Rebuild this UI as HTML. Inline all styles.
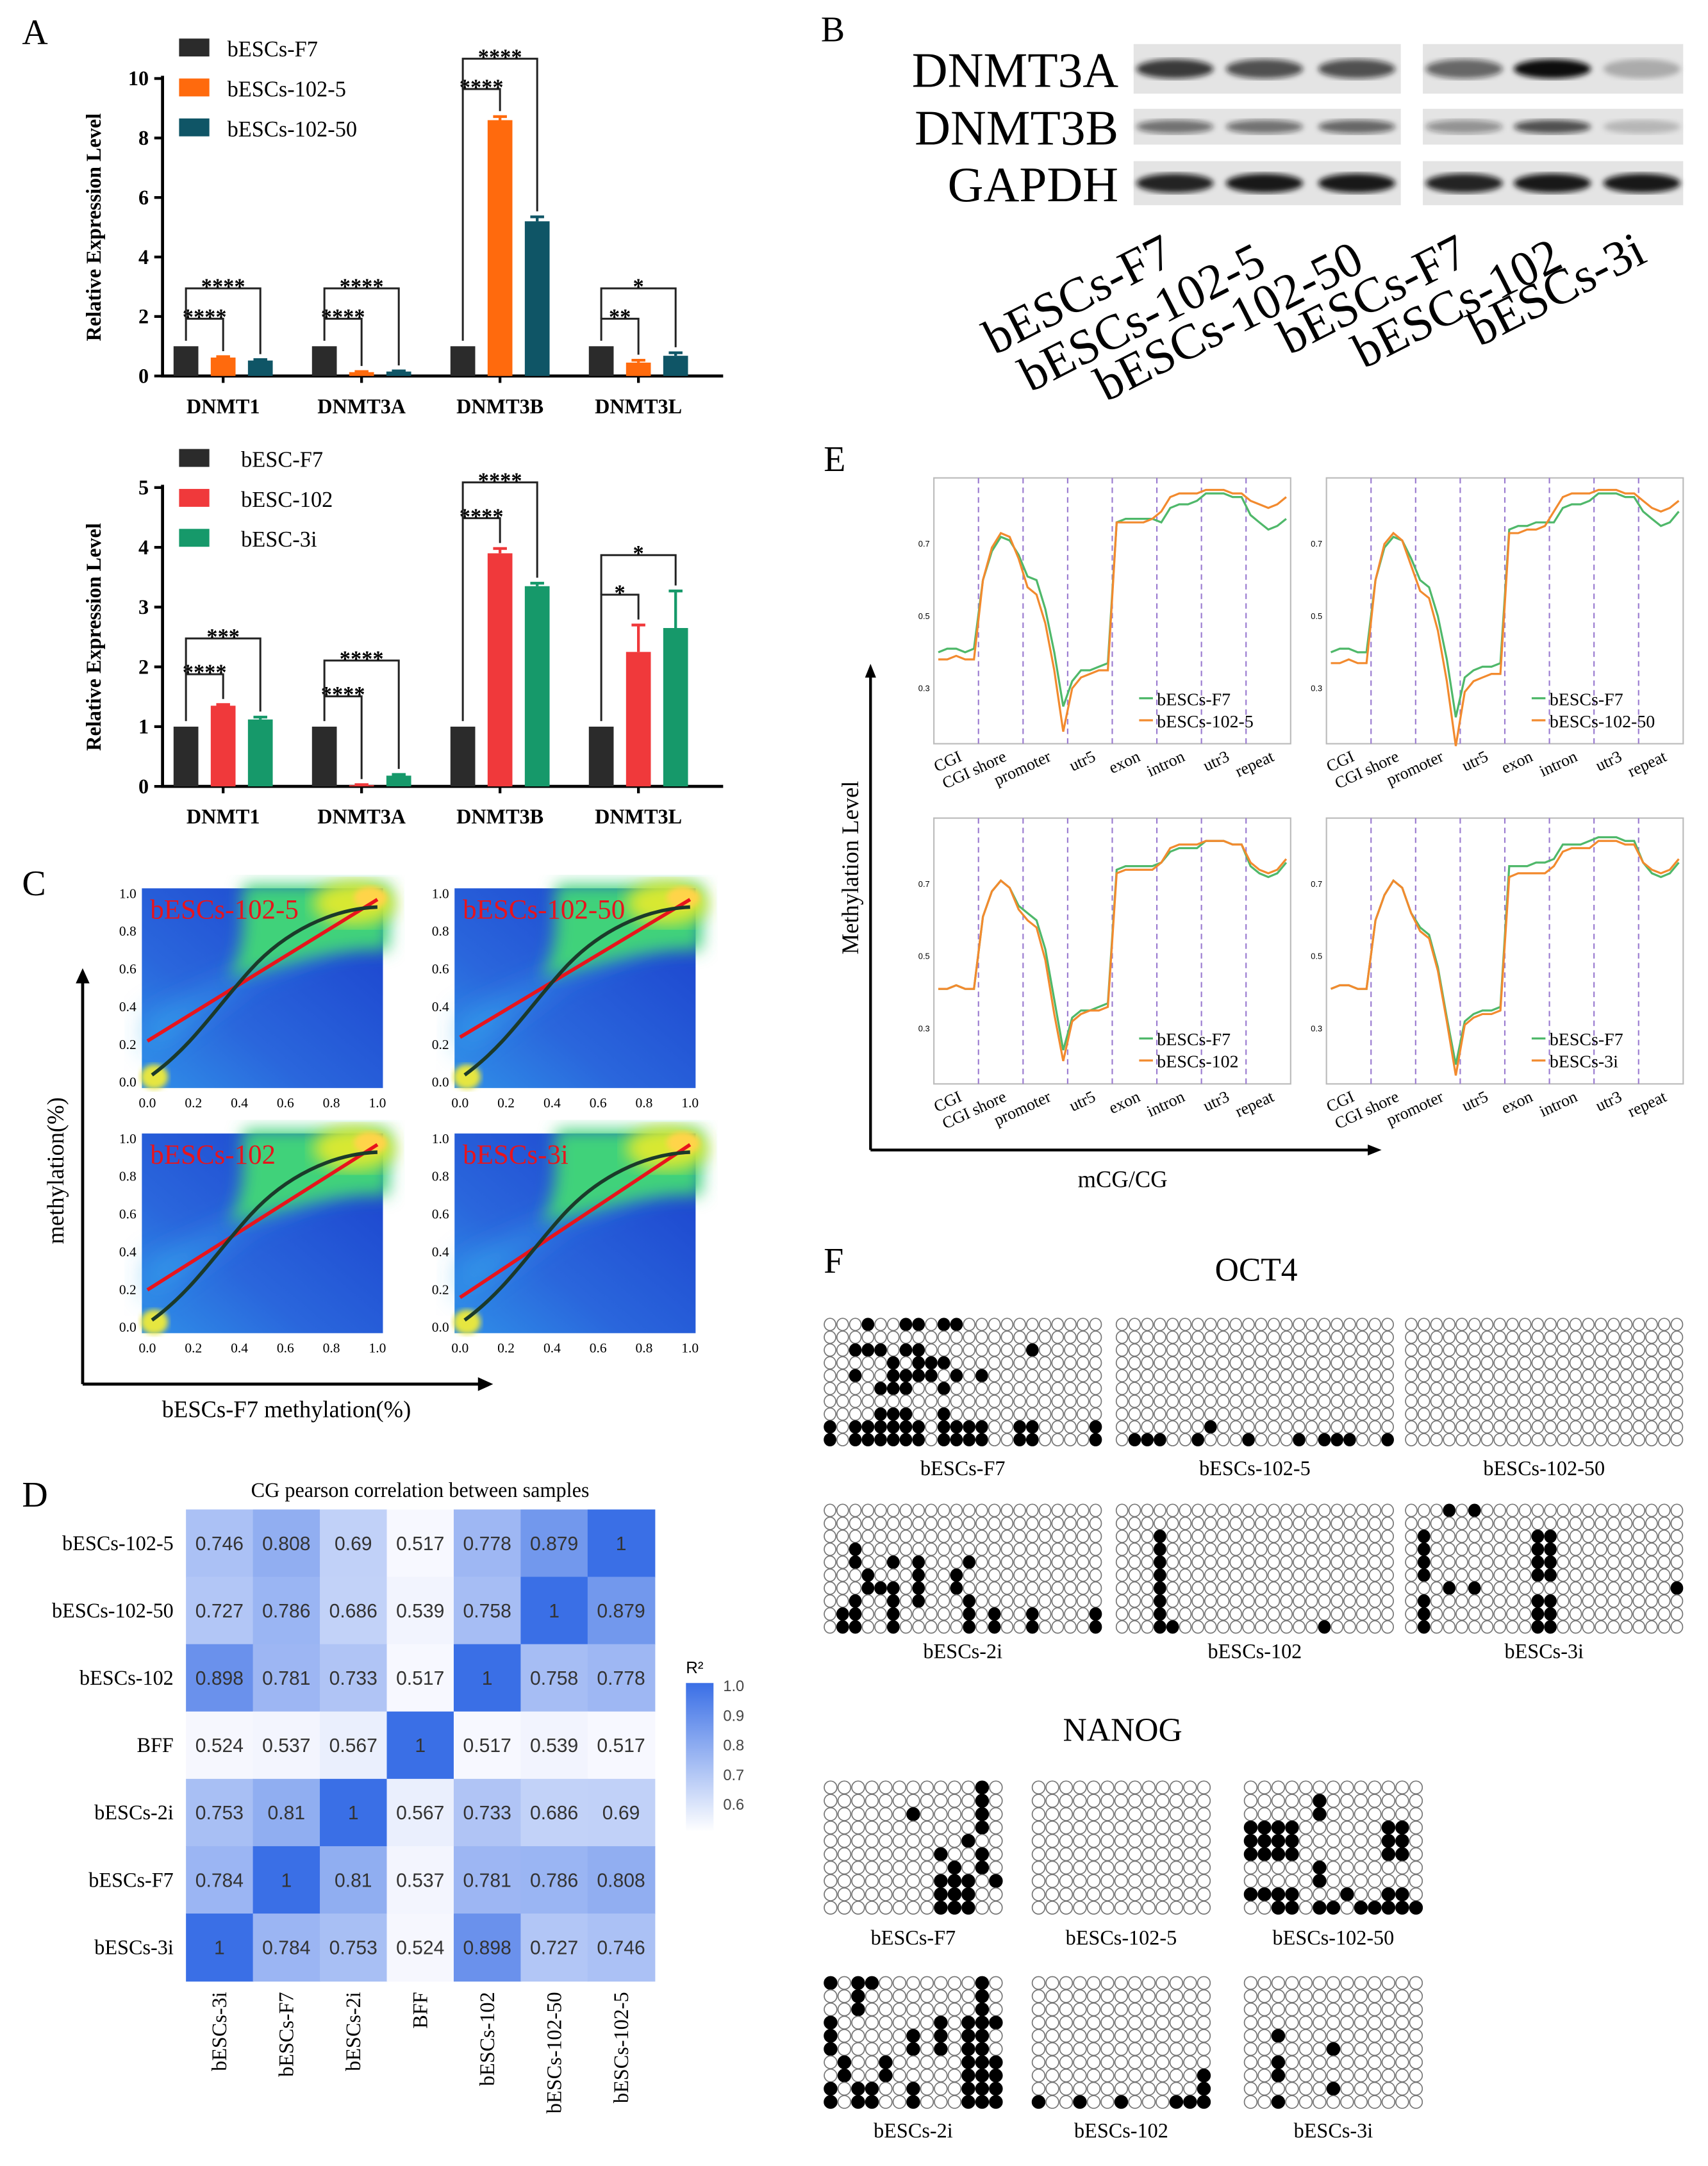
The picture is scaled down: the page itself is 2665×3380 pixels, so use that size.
<!DOCTYPE html>
<html><head><meta charset="utf-8"><title>DNMT figure recreation</title>
<style>
html,body{margin:0;padding:0;background:#fff;}
svg{display:block;font-family:"Liberation Serif","DejaVu Serif",serif;}
</style></head>
<body>
<svg id="fig" xmlns="http://www.w3.org/2000/svg" width="2665" height="3380" viewBox="0 0 1240 1572.7">
<defs>
<filter id="blur2"><feGaussianBlur stdDeviation="2"/></filter>
<filter id="blur6"><feGaussianBlur stdDeviation="6"/></filter>
<filter id="blur10"><feGaussianBlur stdDeviation="10"/></filter>
<linearGradient id="cbar" x1="0" y1="0" x2="0" y2="1"><stop offset="0" stop-color="#3a6fe6"/><stop offset="1" stop-color="#ffffff"/></linearGradient>
<linearGradient id="hmbg" x1="0" y1="1" x2="1" y2="0"><stop offset="0" stop-color="#2f8fe8"/><stop offset="0.35" stop-color="#2a66dc"/><stop offset="1" stop-color="#1a3fcc"/></linearGradient>
</defs>
<rect width="1240" height="1573" fill="#fff"/>
<g id="root"></g>
</svg>
<script>
// ===== Panel A data =====
const catsA = ["DNMT1","DNMT3A","DNMT3B","DNMT3L"];
const seriesA1Names = ["bESCs-F7","bESCs-102-5","bESCs-102-50"];
const a1F7 = [1,1,1,1];
const a1s5 = [0.62,0.13,8.6,0.45];
const a1s50 = [0.52,0.15,5.2,0.68];
const a1Err5 = [0.03,0.02,0.12,0.08];
const a1Err50 = [0.03,0.02,0.15,0.1];
const a1Ticks = [0,2,4,6,8,10];
const seriesA2Names = ["bESC-F7","bESC-102","bESC-3i"];
const a2F7 = [1,1,1,1];
const a2s102 = [1.35,0.02,3.9,2.25];
const a2s3i = [1.12,0.18,3.35,2.65];
const a2Err102 = [0.02,0.01,0.08,0.45];
const a2Err3i = [0.04,0.02,0.05,0.62];
const a2Ticks = [0,1,2,3,4,5];
const sigA1Inner = ["****","****","****","**"];
const sigA1Outer = ["****","****","****","*"];
const sigA2Inner = ["****","****","****","*"];
const sigA2Outer = ["***","****","****","*"];
// ===== Panel D data =====
const dRows = ["bESCs-102-5","bESCs-102-50","bESCs-102","BFF","bESCs-2i","bESCs-F7","bESCs-3i"];
const dCols = ["bESCs-3i","bESCs-F7","bESCs-2i","BFF","bESCs-102","bESCs-102-50","bESCs-102-5"];
const dVals = [
 [0.746,0.808,0.69,0.517,0.778,0.879,1],
 [0.727,0.786,0.686,0.539,0.758,1,0.879],
 [0.898,0.781,0.733,0.517,1,0.758,0.778],
 [0.524,0.537,0.567,1,0.517,0.539,0.517],
 [0.753,0.81,1,0.567,0.733,0.686,0.69],
 [0.784,1,0.81,0.537,0.781,0.786,0.808],
 [1,0.784,0.753,0.524,0.898,0.727,0.746]
];
const dBarTicks = [1.0,0.9,0.8,0.7,0.6];
// ===== Panel E data =====
const eRegions = ["CGI","CGI shore","promoter","utr5","exon","intron","utr3","repeat"];
const eTicks = [0.7,0.5,0.3];
const e1Green = [.40,.41,.41,.40,.41, .60,.68,.72,.71,.67, .61,.60,.52,.40,.25, .32,.35,.35,.36,.37, .76,.77,.77,.77,.77, .76,.80,.81,.81,.82, .84,.84,.84,.83,.83, .78,.76,.74,.75,.77];
const e1Orange = [.38,.38,.39,.38,.38, .60,.69,.73,.72,.66, .58,.56,.48,.35,.18, .30,.33,.34,.35,.35, .76,.76,.76,.76,.77, .79,.83,.84,.84,.84, .85,.85,.85,.84,.84, .82,.81,.80,.81,.83];
const e2Green = [.40,.41,.41,.40,.40, .60,.69,.72,.71,.66, .60,.58,.50,.38,.22, .33,.35,.36,.36,.37, .74,.75,.75,.76,.76, .76,.80,.81,.81,.82, .84,.84,.84,.83,.83, .79,.77,.75,.76,.79];
const e2Orange = [.37,.37,.38,.37,.37, .60,.70,.73,.71,.64, .57,.55,.46,.32,.14, .29,.32,.33,.34,.34, .73,.73,.74,.74,.75, .79,.83,.84,.84,.84, .85,.85,.85,.84,.84, .82,.80,.79,.80,.82];
const e3Green = [.41,.41,.42,.41,.41, .61,.68,.71,.69,.64, .62,.60,.52,.38,.24, .33,.35,.35,.36,.37, .74,.75,.75,.75,.75, .76,.79,.80,.80,.80, .82,.82,.82,.81,.81, .75,.73,.72,.73,.76];
const e3Orange = [.41,.41,.42,.41,.41, .61,.68,.71,.69,.63, .60,.58,.49,.34,.21, .32,.34,.35,.35,.36, .73,.74,.74,.74,.74, .76,.80,.81,.81,.81, .82,.82,.82,.81,.81, .76,.74,.73,.74,.77];
const e4Green = [.41,.42,.42,.41,.41, .60,.67,.71,.69,.62, .58,.56,.47,.33,.20, .32,.34,.35,.35,.36, .75,.75,.75,.76,.76, .77,.81,.81,.81,.82, .83,.83,.83,.82,.82, .76,.73,.72,.73,.76];
const e4Orange = [.41,.42,.42,.41,.41, .60,.67,.71,.69,.62, .57,.55,.46,.32,.17, .31,.33,.34,.34,.35, .72,.73,.73,.73,.73, .75,.79,.80,.80,.80, .82,.82,.82,.81,.81, .76,.74,.73,.74,.77];
// ===== Panel F data (methylated CpG column indices per row) =====
const oF7 = [[3,6,7,9,10],[],[2,3,4,6,7,16],[5,7,8,9],[2,5,6,7,8,10,12],[4,5,6,9],[],[4,5,6,9],[0,2,3,4,5,6,7,9,10,11,12,15,16,21],[0,2,3,4,5,6,7,9,10,11,12,15,16,21]];
const o1025 = [[],[],[],[],[],[],[],[],[7],[1,2,3,6,10,14,16,17,18,21]];
const o10250 = [[],[],[],[],[],[],[],[],[],[]];
const o2i = [[],[],[],[2],[2,5,7,11],[3,7,10],[3,4,5,7,10],[2,5,7,11],[1,2,5,11,13,16,21],[1,2,5,11,13,16,21]];
const o102 = [[],[],[3],[3],[3],[3],[3],[3],[3],[3,4,16]];
const o3i = [[3,5],[],[1,10,11],[1,10,11],[1,10,11],[1,10,11],[3,5,21],[1,10,11],[1,10,11],[1,10,11]];
const nF7 = [[11],[11],[6,11],[11],[10],[8,11],[9,11],[8,9,10,12],[8,9,10],[8,9,10]];
const n1025 = [[],[],[],[],[],[],[],[],[],[]];
const n10250 = [[],[5],[5],[0,1,2,3,10,11],[0,1,2,3,10,11],[0,1,2,3,10,11],[5],[5],[0,1,2,3,7,10,11],[2,3,5,6,8,9,10,11,12]];
const n2i = [[0,2,3,11],[2,11],[2,11],[0,8,10,11,12],[0,6,8,10,11],[0,6,8,10,11],[1,4,10,11,12],[1,4,10,11,12],[0,2,3,6,10,11,12],[0,2,3,6,10,11,12]];
const n102 = [[],[],[],[],[],[],[],[12],[12],[0,3,6,10,11,12]];
const n3i = [[],[],[],[],[2],[6],[2],[2],[6],[2]];

const NS="http://www.w3.org/2000/svg";
const root=document.getElementById('root');
function mk(tag,attrs,parent,txt){const e=document.createElementNS(NS,tag);for(const k in attrs)e.setAttribute(k,attrs[k]);if(txt!==undefined)e.textContent=txt;(parent||root).appendChild(e);return e;}
function grp(name,parent){const g=mk('g',{},parent);


return g;}

// Panel letters
[["A",16,32],["B",596,30],["C",16,650],["D",16,1094],["E",598,342],["F",598,924]].forEach(p=>{
 const t=mk('text',{x:p[1],y:p[2],'font-size':26},root,p[0]);
 
 
});

// ===== Bar chart =====
function barChart(o){
 const g=grp(o.name);
 const yS=v=>o.yBot-(v/o.ymax)*(o.yBot-o.yTop);
 const groupX=i=>o.x0+ i*o.step;
 const bw=18, off=[-27,0,27];
 // axes
 const ax=mk('path',{d:`M${o.axX},${o.yTop-2} V${o.yBot} H${o.axEnd}`,stroke:'#000','stroke-width':2.2,fill:'none'},g);
 
 
 o.ticks.forEach(t=>{
  const l=mk('line',{x1:o.axX-6,x2:o.axX,y1:yS(t),y2:yS(t),stroke:'#000','stroke-width':2},g);
  
  
  const tx=mk('text',{x:o.axX-10,y:yS(t)+5,'text-anchor':'end','font-size':15,'font-weight':'bold'},g,String(t));
  
  
 });
 const yt=mk('text',{transform:`translate(${o.axX-45},${(o.yTop+o.yBot)/2}) rotate(-90)`,'text-anchor':'middle','font-size':15,'font-weight':'bold'},g,'Relative Expression Level');
 
 
 o.cats.forEach((c,i)=>{
  const t=mk('text',{x:groupX(i),y:o.yBot+27,'text-anchor':'middle','font-size':15,'font-weight':'bold'},g,c);
  
  
  const tk=mk('line',{x1:groupX(i),x2:groupX(i),y1:o.yBot,y2:o.yBot+5,stroke:'#000','stroke-width':2},g);
  
  
 });
 o.series.forEach((s,si)=>{
  s.vals.forEach((v,i)=>{
   const x=groupX(i)+off[si];
   const r=mk('rect',{x:x-bw/2,y:yS(v),width:bw,height:o.yBot-yS(v),fill:s.color},g);
   
   
   if(s.err){const e=s.err[i];
    const eb=mk('path',{d:`M${x},${yS(v)} V${yS(v+e)} M${x-5},${yS(v+e)} H${x+5}`,stroke:s.color,'stroke-width':2,fill:'none'},g);
    
    }
  });
 });
 // significance brackets
 o.cats.forEach((c,i)=>{
  const xa=groupX(i)+off[0], xb=groupX(i)+off[1], xc=groupX(i)+off[2];
  const topB=yS(o.series[1].vals[i]+(o.series[1].err?o.series[1].err[i]:0));
  const topC=yS(o.series[2].vals[i]+(o.series[2].err?o.series[2].err[i]:0));
  const topA=yS(o.series[0].vals[i]);
  const yIn=Math.min(topA,topB)-o.gap1, yOut=Math.min(yIn,topC)-o.gap2;
  const b1=mk('path',{d:`M${xa},${topA-4} V${yIn} H${xb} V${topB-4}`,stroke:'#222','stroke-width':1.4,fill:'none'},g);
  
  
  const t1=mk('text',{x:(xa+xb)/2,y:yIn+4,'text-anchor':'middle','font-size':16,'font-weight':'bold'},g,o.sigIn[i]);
  
  
  const b2=mk('path',{d:`M${xa},${yIn} V${yOut} H${xc} V${topC-4}`,stroke:'#222','stroke-width':1.4,fill:'none'},g);
  
  
  const t2=mk('text',{x:(xa+xc)/2,y:yOut+4,'text-anchor':'middle','font-size':16,'font-weight':'bold'},g,o.sigOut[i]);
  
  
 });
 // legend
 o.series.forEach((s,si)=>{
  const y=o.legY+si*29;
  const r=mk('rect',{x:o.legX,y:y-7,width:22,height:13,fill:s.color},g);
  
  
  const t=mk('text',{x:o.legX+o.legGap,y:y+6,'font-size':16},g,s.name);
  
  
 });
}
barChart({name:'bar-chart-a-top',cats:catsA,x0:162,step:100.5,axX:118,axEnd:525,yTop:57,yBot:273,ymax:10,ticks:a1Ticks,gap1:20,gap2:22,
 sigIn:sigA1Inner,sigOut:sigA1Outer,legX:130,legY:35,legGap:35,
 series:[{name:seriesA1Names[0],vals:a1F7,color:'#2b2b2b'},{name:seriesA1Names[1],vals:a1s5,color:'#ff6a0d',err:a1Err5},{name:seriesA1Names[2],vals:a1s50,color:'#0f5566',err:a1Err50}]});
barChart({name:'bar-chart-a-bottom',cats:catsA,x0:162,step:100.5,axX:118,axEnd:525,yTop:354,yBot:571,ymax:5,ticks:a2Ticks,gap1:22,gap2:26,
 sigIn:sigA2Inner,sigOut:sigA2Outer,legX:130,legY:333,legGap:45,
 series:[{name:seriesA2Names[0],vals:a2F7,color:'#2b2b2b'},{name:seriesA2Names[1],vals:a2s102,color:'#f0393b',err:a2Err102},{name:seriesA2Names[2],vals:a2s3i,color:'#16996a',err:a2Err3i}]});

// ===== Panel B western blots =====
(function(){
 const g=grp('western-blot-b');
 const rows=[["DNMT3A",50,36,[0.8,0.7,0.7,0.6,1,0.25]],["DNMT3B",92,26,[0.55,0.55,0.6,0.4,0.7,0.2]],["GAPDH",133,32,[0.9,0.95,0.95,0.9,0.95,0.95]]];
 const lanes=[853,918,985,1063,1127,1192];
 rows.forEach(r=>{
  const lab=mk('text',{x:812,y:r[1]+13,'text-anchor':'end','font-size':36},g,r[0]);
  
  
  [[823,1017],[1033,1222]].forEach(b=>{
   const bg=mk('rect',{x:b[0],y:r[1]-r[2]/2,width:b[1]-b[0],height:r[2],fill:'#e4e4e4'},g);
   
   
  });
  lanes.forEach((lx,i)=>{
   const e=mk('ellipse',{cx:lx,cy:r[1],rx:28,ry:r[0]==="DNMT3B"?5:7,fill:'#111','fill-opacity':r[3][i],filter:'url(#blur2)'},g);
   
   
  });
 });
 const labs=[["bESCs-F7",722,258],["bESCs-102-5",748,285],["bESCs-102-50",803,292],["bESCs-F7",936,258],["bESCs-102",990,268],["bESCs-3i",1074,252]];
 labs.forEach(l=>{
  const t=mk('text',{transform:`translate(${l[1]},${l[2]}) rotate(-27)`,'font-size':36},g,l[0]);
  
  
 });
})();

// ===== Panel C scatter density heatmaps =====
(function(){
 const g=grp('density-plots-c');
 const panels=[["bESCs-102-5",103,645,0.22],["bESCs-102-50",330,645,0.24],["bESCs-102",103,823,0.20],["bESCs-3i",330,823,0.16]];
 panels.forEach(p=>{
  const x0=p[1],y0=p[2],w=175,h=145;
  const pg=grp('density-panel-'+p[0].toLowerCase(),g);
  const X=v=>x0+4+v*(w-8), Y=v=>y0+h-4-v*(h-8);
  const cp=mk('clipPath',{id:'cp'+x0+y0},pg);
  mk('rect',{x:x0,y:y0,width:w,height:h},cp);
  const cg=mk('g',{'clip-path':`url(#cp${x0+y0})`},pg);
  const bg=mk('rect',{x:x0,y:y0,width:w,height:h,fill:'url(#hmbg)'},cg);
  
  
  mk('path',{d:`M${X(0)},${Y(0.15)} L${X(0.45)},${Y(0.55)} L${X(1)},${Y(0.85)} L${X(1)},${Y(1.0)} L${X(0.5)},${Y(0.62)} L${X(0)},${Y(0.35)}Z`,fill:'#35b0f0','fill-opacity':0.6,filter:'url(#blur10)'},cg);
  mk('path',{d:`M${X(0.35)},${Y(0.55)} C${X(0.45)},${Y(0.75)} ${X(0.4)},${Y(0.95)} ${X(0.42)},${Y(1.05)} L${X(1.05)},${Y(1.05)} L${X(1.05)},${Y(0.7)} C${X(0.8)},${Y(0.72)} ${X(0.6)},${Y(0.62)} ${X(0.35)},${Y(0.55)}Z`,fill:'#3fd27a',filter:'url(#blur6)'},cg);
  mk('ellipse',{cx:X(0.9),cy:Y(0.95),rx:30,ry:16,fill:'#d8e830',filter:'url(#blur6)'},cg);
  mk('ellipse',{cx:X(0.97),cy:Y(0.98),rx:12,ry:8,fill:'#ffd44a',filter:'url(#blur2)'},cg);
  mk('ellipse',{cx:X(0.03),cy:Y(0.03),rx:10,ry:9,fill:'#e6e640',filter:'url(#blur2)'},cg);
  const rl=mk('line',{x1:X(0),y1:Y(p[3]),x2:X(1),y2:Y(0.97),stroke:'#e8141c','stroke-width':2.6},cg);
  
  
  const bl=mk('path',{d:`M${X(0.02)},${Y(0.04)} C${X(0.2)},${Y(0.2)} ${X(0.3)},${Y(0.4)} ${X(0.45)},${Y(0.6)} C${X(0.6)},${Y(0.8)} ${X(0.8)},${Y(0.92)} ${X(1)},${Y(0.93)}`,stroke:'#1b3a2a','stroke-width':2.6,fill:'none'},cg);
  
  
  const tt=mk('text',{x:x0+6,y:y0+22,'font-size':20,fill:'#e8141c'},pg,p[0]);
  
  
  [0,0.2,0.4,0.6,0.8,1.0].forEach(t=>{
   const a=mk('text',{x:x0-4,y:Y(t)+3,'text-anchor':'end','font-size':10},pg,t.toFixed(1));
   
   
   const b=mk('text',{x:X(t),y:y0+h+14,'text-anchor':'middle','font-size':10},pg,t.toFixed(1));
   
   
  });
 });
 const ax=mk('path',{d:'M60,1005 V712 M60,1005 H350',stroke:'#000','stroke-width':2.2,fill:'none'},g);
 
 
 const ah=mk('path',{d:'M60,703 L55,714 L65,714Z M358,1005 L347,1000 L347,1010Z',fill:'#000'},g);
 
 
 const yt=mk('text',{transform:'translate(46,850) rotate(-90)','text-anchor':'middle','font-size':17},g,'methylation(%)');
 
 
 const xt=mk('text',{x:208,y:1029,'text-anchor':'middle','font-size':17},g,'bESCs-F7 methylation(%)');
 
 
})();

// ===== Panel D correlation heatmap =====
(function(){
 const g=grp('correlation-heatmap-d');
 const x0=135,y0=1096,cw=48.6,ch=48.9;
 const col=v=>{let t=Math.max(0,Math.min(1,(v-0.5)/0.5));t=Math.pow(t,1.25);
  const a=[250,250,255],b=[58,111,230];return `rgb(${a.map((c,i)=>Math.round(c+(b[i]-c)*t)).join(',')})`;};
 const tt=mk('text',{x:305,y:1087,'text-anchor':'middle','font-size':15},g,'CG pearson correlation between samples');
 
 
 dRows.forEach((rn,r)=>{
  const rl=mk('text',{x:x0-9,y:y0+r*ch+ch/2+5,'text-anchor':'end','font-size':15},g,rn);
  
  
  dCols.forEach((cn,c)=>{
   const v=dVals[r][c];
   const cell=mk('rect',{x:x0+c*cw,y:y0+r*ch,width:cw+0.5,height:ch+0.5,fill:col(v)},g);
   
   
   const t=mk('text',{x:x0+c*cw+cw/2,y:y0+r*ch+ch/2+5,'text-anchor':'middle','font-size':14,'font-family':'Liberation Sans, sans-serif',fill:'#333'},g,String(v));
   
   
  });
 });
 dCols.forEach((cn,c)=>{
  const t=mk('text',{transform:`translate(${x0+c*cw+cw/2+5},${y0+7*ch+8}) rotate(-90)`,'text-anchor':'end','font-size':15},g,cn);
  
  
 });
 const cb=mk('rect',{x:498,y:1222,width:20,height:108,fill:'url(#cbar)'},g);
 
 
 const cbt=mk('text',{x:498,y:1215,'font-size':12,'font-family':'Liberation Sans, sans-serif'},g,'R²');
 
 
 const cbY=v=>1224+(1.0-v)/0.1*21.5;
 dBarTicks.forEach(v=>{
  const t=mk('text',{x:525,y:cbY(v)+4,'font-size':11,'font-family':'Liberation Sans, sans-serif',fill:'#444'},g,v.toFixed(1));
  
  
 });
})();

// ===== Panel E line plots =====
(function(){
 const g=grp('methylation-profiles-e');
 const panels=[[678,347,e1Green,e1Orange,"bESCs-102-5"],[963,347,e2Green,e2Orange,"bESCs-102-50"],[678,594,e3Green,e3Orange,"bESCs-102"],[963,594,e4Green,e4Orange,"bESCs-3i"]];
 panels.forEach(p=>{
  const x0=p[0],y0=p[1],w=259,h=193;
  const pg=grp('profile-panel-'+p[4].toLowerCase(),g);
  const fr=mk('rect',{x:x0,y:y0,width:w,height:h,fill:'#fff',stroke:'#bbb','stroke-width':1},pg);
  
  
  const Y=v=>y0+48+(0.7-v)*262;
  const segW=w/8;
  const X=i=>x0+(Math.floor(i/5)+((i%5)+0.5)/5)*segW;
  for(let s=1;s<8;s++){
   const l=mk('line',{x1:x0+s*segW,x2:x0+s*segW,y1:y0,y2:y0+h,stroke:'#9a7bd0','stroke-width':1,'stroke-dasharray':'4,3'},pg);
   
   
  }
  eTicks.forEach(t=>{
   const a=mk('text',{x:x0-3,y:Y(t)+2,'text-anchor':'end','font-size':6,'font-family':'Liberation Sans, sans-serif'},pg,String(t));
   
   
  });
  [[p[2],'#4fb86a','green'],[p[3],'#f28a2e','orange']].forEach(sr=>{
   const d=sr[0].map((v,i)=>(i?'L':'M')+X(i).toFixed(1)+','+Y(v).toFixed(1)).join(' ');
   const pl=mk('path',{d:d,stroke:sr[1],'stroke-width':1.5,fill:'none'},pg);
   
   
  });
  const lg=[["bESCs-F7",'#4fb86a'],[p[4],'#f28a2e']];
  lg.forEach((l,i)=>{
   const ly=y0+h-33+i*16;
   const ll=mk('line',{x1:x0+w-110,x2:x0+w-100,y1:ly,y2:ly,stroke:l[1],'stroke-width':1.5},pg);
   
   
   const lt=mk('text',{x:x0+w-97,y:ly+5,'font-size':13},pg,l[0]);
   
   
  });
  eRegions.forEach((r,i)=>{
   const t=mk('text',{transform:`translate(${x0+i*segW+segW*0.65},${y0+h+12}) rotate(-25)`,'text-anchor':'end','font-size':12},pg,r);
   
   
  });
 });
 const ax=mk('path',{d:'M632,835 V490 M632,835 H995',stroke:'#000','stroke-width':2,fill:'none'},g);
 
 
 const ah=mk('path',{d:'M632,482 L628,492 L636,492Z M1003,835 L993,831 L993,839Z',fill:'#000'},g);
 
 
 const yt=mk('text',{transform:'translate(623,630) rotate(-90)','text-anchor':'middle','font-size':17},g,'Methylation Level');
 
 
 const xt=mk('text',{x:815,y:862,'text-anchor':'middle','font-size':17},g,'mCG/CG');
 
 
})();

// ===== Panel F bisulfite lollipop grids =====
(function(){
 const g=grp('bisulfite-grids-f');
 const t1=mk('text',{x:912,y:930,'text-anchor':'middle','font-size':24},g,'OCT4');
 
 
 const t2=mk('text',{x:815,y:1264,'text-anchor':'middle','font-size':24},g,'NANOG');
 
 
 const grids=[
  [oF7,22,598,957,202,93,"bESCs-F7",1071],[o1025,22,810,957,202,93,"bESCs-102-5",1071],[o10250,22,1020,957,202,93,"bESCs-102-50",1071],
  [o2i,22,598,1092,202,94,"bESCs-2i",1204],[o102,22,810,1092,202,94,"bESCs-102",1204],[o3i,22,1020,1092,202,94,"bESCs-3i",1204],
  [nF7,13,598,1293,130,97,"bESCs-F7",1412],[n1025,13,749,1293,130,97,"bESCs-102-5",1412],[n10250,13,903,1293,130,97,"bESCs-102-50",1412],
  [n2i,13,598,1435,130,96,"bESCs-2i",1552],[n102,13,749,1435,130,96,"bESCs-102",1552],[n3i,13,903,1435,130,96,"bESCs-3i",1552]
 ];
 grids.forEach(gd=>{
  const [rows,nc,x0,y0,w,h,lab,ly]=gd;
  const gg=grp('methylation-grid-'+lab.toLowerCase(),g);
  const cw=w/nc, ch=h/10;
  for(let r=0;r<10;r++){for(let c=0;c<nc;c++){
   const filled=rows[r].indexOf(c)>=0;
   const ci=mk('ellipse',{cx:x0+cw*(c+0.5),cy:y0+ch*(r+0.5),rx:cw/2-0.4,ry:ch/2-0.2,fill:filled?'#000':'#fff',stroke:filled?'#000':'#777','stroke-width':0.8},gg);
   
   
  }}
  const t=mk('text',{x:x0+w/2,y:ly,'text-anchor':'middle','font-size':15},gg,lab);
  
  
 });
})();
</script>
</body></html>
